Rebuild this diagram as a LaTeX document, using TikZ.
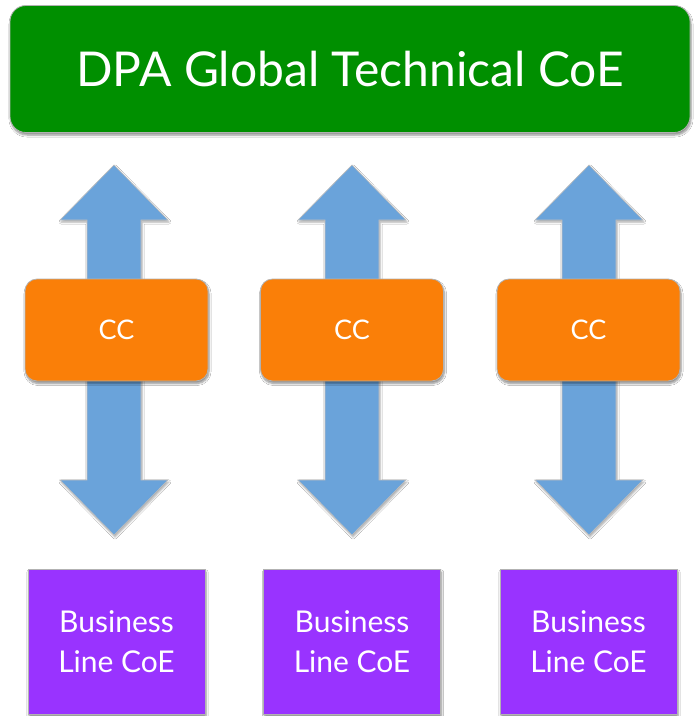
\documentclass[tikz,border=0pt]{standalone}
\usepackage{fontspec}
\setmainfont{Lato}
\usetikzlibrary{shadows.blur}
\definecolor{topgreen}{RGB}{0,143,0}
\definecolor{ccorange}{RGB}{250,127,8}
\definecolor{arrowblue}{RGB}{106,163,218}
\definecolor{blpurple}{RGB}{153,51,255}
\begin{document}
\begin{tikzpicture}[x=1pt,y=-1pt,
  shad/.style={blur shadow={shadow xshift=1pt,shadow yshift=-2.5pt,shadow blur steps=6,shadow opacity=45}},
  topbox/.style={shad,draw=gray!60,line width=0.8pt,fill=topgreen,rounded corners=16pt,minimum width=680pt,minimum height=127pt,text=white,font=\fontsize{48}{55}\selectfont,inner sep=0pt},
  ccbox/.style={shad,draw=gray!60,line width=0.8pt,fill=ccorange,rounded corners=12pt,minimum width=183pt,minimum height=102pt,text=white,font=\fontsize{27}{30}\selectfont,inner sep=0pt},
  blbox/.style={shad,draw=gray!60,line width=0.8pt,fill=blpurple,minimum width=177pt,minimum height=145pt,text=white,font=\fontsize{30}{40}\selectfont,align=center,inner sep=0pt},
  darrow/.style={fill=arrowblue,draw=gray!50,line width=0.6pt,blur shadow={shadow xshift=1pt,shadow yshift=-2pt,shadow blur steps=5,shadow opacity=35}}
]
\useasboundingbox (0,0) rectangle (694,716);
\fill[white] (0,0) rectangle (694,716);

\node[topbox] (top) at (350,69) {DPA Global Technical CoE};

\foreach \i/\cx/\bx in {1/114/116.5,2/352/352,3/589/588.5}{
  \coordinate (t\i) at (\cx,165);
  \coordinate (b\i) at (\cx,535);
  \path[darrow] (t\i) -- ++(54,55) -- ++(-27,0) -- ++(0,260) -- ++(27,0)
     -- (b\i) -- ++(-54,-55) -- ++(27,0) -- ++(0,-260) -- ++(-27,0) -- cycle;
  \node[ccbox] (cc\i) at (\bx,330) {CC};
  \node[blbox] (bl\i) at (\bx,642) {Business\\Line CoE};
}
\end{tikzpicture}
\end{document}
